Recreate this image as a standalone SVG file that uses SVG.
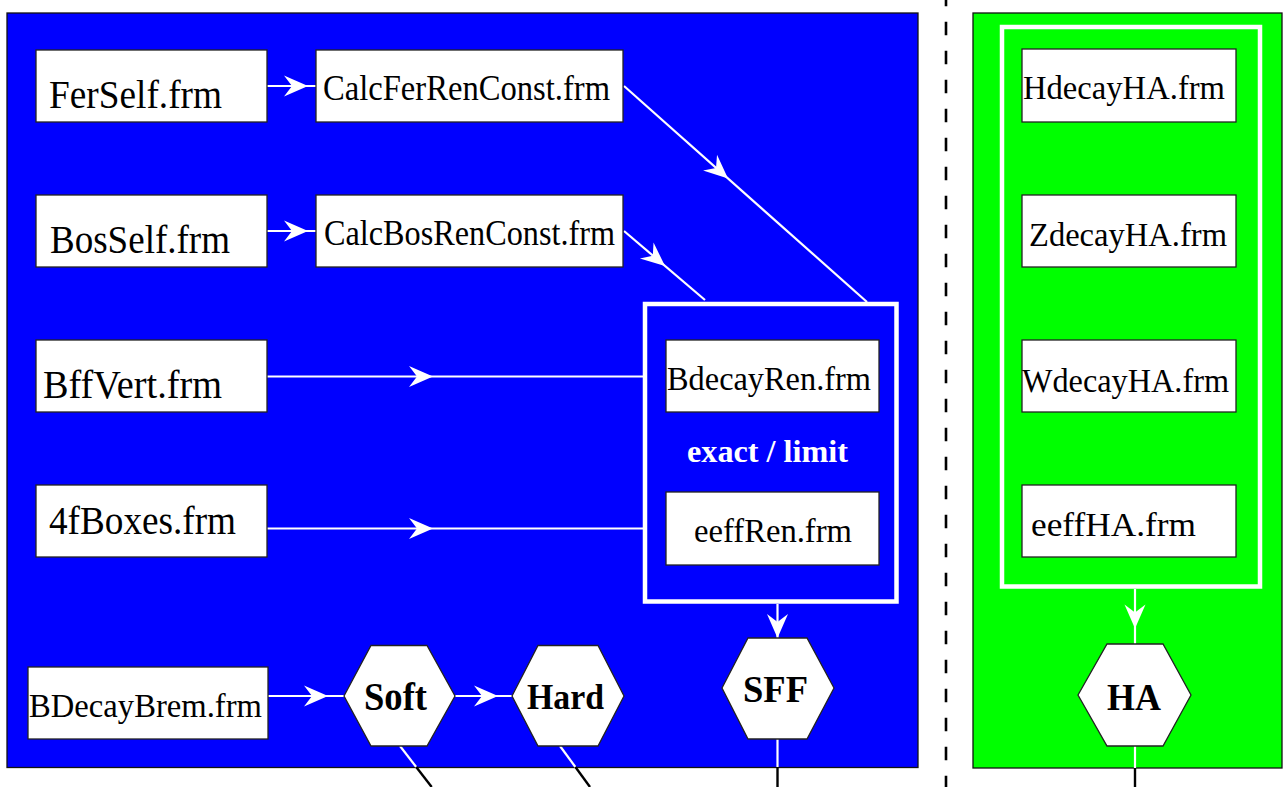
<svg xmlns="http://www.w3.org/2000/svg" xmlns:xlink="http://www.w3.org/1999/xlink" width="1286" height="787" viewBox="0 0 1286 787">
<style>
.box{fill:#fff;stroke:#222;stroke-width:1.3}
.hex{fill:#fff;stroke:#222;stroke-width:1.3}
.t{font-family:"Liberation Serif","Times New Roman",serif;fill:#000}
.b{font-family:"Liberation Serif","Times New Roman",serif;font-weight:bold;fill:#000}
.w{stroke:#fff;stroke-width:2.2;fill:none}
.k{stroke:#000;stroke-width:2.4;fill:none}
.frame{fill:none;stroke:#fff;stroke-width:4.5}
</style>
<defs>
<path id="ah" d="M0,0 L-24,-10.5 L-16,0 L-24,10.5 Z" fill="#fff"/>
</defs>
<rect width="1286" height="787" fill="#fff"/>
<g id="panel-blue"><rect x="7" y="13" width="911" height="754.5" fill="#0000ff" stroke="#111" stroke-width="1.3"/></g>
<g id="panel-green"><rect x="973" y="13" width="309" height="755" fill="#00ff00" stroke="#111" stroke-width="1.3"/></g>
<g id="divider"><line x1="946" y1="-7.3" x2="946" y2="787" stroke="#000" stroke-width="2.6" stroke-dasharray="13.5 15.5"/></g>
<g id="frame-ren"><rect class="frame" x="645" y="304" width="251.5" height="297.5"/></g>
<g id="frame-ha"><rect class="frame" x="1002" y="27" width="258" height="559.5"/></g>

<g id="connectors">
<line class="w" x1="267" y1="86" x2="316" y2="86"/>
<use xlink:href="#ah" transform="translate(308,86)"/>
<line class="w" x1="267" y1="231" x2="316" y2="231"/>
<use xlink:href="#ah" transform="translate(308,231)"/>
<line class="w" x1="624" y1="86" x2="867" y2="302"/>
<use xlink:href="#ah" transform="translate(728,178.5) rotate(41.6)"/>
<line class="w" x1="624" y1="231" x2="705" y2="300"/>
<use xlink:href="#ah" transform="translate(665,266) rotate(40.4)"/>
<line class="w" x1="267" y1="376.5" x2="645" y2="376.5"/>
<use xlink:href="#ah" transform="translate(433,376.5)"/>
<line class="w" x1="267" y1="528.5" x2="645" y2="528.5"/>
<use xlink:href="#ah" transform="translate(433,528.5)"/>
<line class="w" x1="777.5" y1="604" x2="777.5" y2="638"/>
<use xlink:href="#ah" transform="translate(777.5,638) rotate(90)"/>
<line class="w" x1="1135" y1="589" x2="1135" y2="644"/>
<use xlink:href="#ah" transform="translate(1135,628.5) rotate(90)"/>
<line class="w" x1="268" y1="696" x2="344" y2="696"/>
<use xlink:href="#ah" transform="translate(328,696)"/>
<line class="w" x1="455" y1="696" x2="512" y2="696"/>
<use xlink:href="#ah" transform="translate(498,696)"/>
<line class="w" x1="400" y1="746" x2="416.2" y2="767"/>
<line class="k" x1="416.2" y1="767" x2="431.7" y2="787"/>
<line class="w" x1="560" y1="746" x2="575.4" y2="767"/>
<line class="k" x1="575.4" y1="767" x2="590" y2="787"/>
<line class="w" x1="777.5" y1="739" x2="777.5" y2="767"/>
<line class="k" x1="777.5" y1="767" x2="777.5" y2="787"/>
<line class="w" x1="1135" y1="746" x2="1135" y2="768"/>
<line class="k" x1="1135" y1="768" x2="1135" y2="787"/>
</g>

<g id="FerSelf"><rect class="box" x="36" y="50" width="231" height="72"/><text class="t" x="49" y="108" font-size="39" textLength="173" lengthAdjust="spacingAndGlyphs">FerSelf.frm</text></g>
<g id="CalcFerRenConst"><rect class="box" x="316" y="50" width="307" height="72"/><text class="t" x="323" y="100" font-size="35" textLength="287" lengthAdjust="spacingAndGlyphs">CalcFerRenConst.frm</text></g>
<g id="BosSelf"><rect class="box" x="36" y="195" width="231" height="72"/><text class="t" x="50" y="253" font-size="39" textLength="180" lengthAdjust="spacingAndGlyphs">BosSelf.frm</text></g>
<g id="CalcBosRenConst"><rect class="box" x="316" y="195" width="307" height="72"/><text class="t" x="324" y="245" font-size="35" textLength="291" lengthAdjust="spacingAndGlyphs">CalcBosRenConst.frm</text></g>
<g id="BffVert"><rect class="box" x="36" y="340" width="231" height="72"/><text class="t" x="43" y="398" font-size="39" textLength="179" lengthAdjust="spacingAndGlyphs">BffVert.frm</text></g>
<g id="4fBoxes"><rect class="box" x="36" y="485" width="231" height="72"/><text class="t" x="49" y="534" font-size="39" textLength="187" lengthAdjust="spacingAndGlyphs">4fBoxes.frm</text></g>
<g id="BdecayRen"><rect class="box" x="666" y="340" width="213" height="72"/><text class="t" x="667" y="390" font-size="33.5" textLength="204" lengthAdjust="spacingAndGlyphs">BdecayRen.frm</text></g>
<g id="exact-limit"><text x="687" y="462" font-family="Liberation Serif,serif" font-weight="bold" font-size="32" fill="#fff" textLength="161" lengthAdjust="spacingAndGlyphs">exact / limit</text></g>
<g id="eeffRen"><rect class="box" x="666" y="492" width="213" height="73"/><text class="t" x="694" y="542" font-size="33.5" textLength="158" lengthAdjust="spacingAndGlyphs">eeffRen.frm</text></g>
<g id="BDecayBrem"><rect class="box" x="28" y="667" width="240" height="72"/><text class="t" x="29" y="717" font-size="34" textLength="233" lengthAdjust="spacingAndGlyphs">BDecayBrem.frm</text></g>
<g id="Soft"><polygon class="hex" points="344,696 371,645.5 427,645.5 455,696 427,746 371,746"/><text class="b" x="364" y="710" font-size="39" textLength="63" lengthAdjust="spacingAndGlyphs">Soft</text></g>
<g id="Hard"><polygon class="hex" points="512,696 538,645.5 598,645.5 624,696 598,746 538,746"/><text class="b" x="527" y="709" font-size="36" textLength="77" lengthAdjust="spacingAndGlyphs">Hard</text></g>
<g id="SFF"><polygon class="hex" points="722,688 748,638 807,638 834,688 807,739 748,739"/><text class="b" x="743" y="702" font-size="38" textLength="65" lengthAdjust="spacingAndGlyphs">SFF</text></g>
<g id="HdecayHA"><rect class="box" x="1022" y="49" width="214" height="73"/><text class="t" x="1023" y="99" font-size="34" textLength="202" lengthAdjust="spacingAndGlyphs">HdecayHA.frm</text></g>
<g id="ZdecayHA"><rect class="box" x="1022" y="195" width="214" height="72"/><text class="t" x="1029" y="246" font-size="34" textLength="198" lengthAdjust="spacingAndGlyphs">ZdecayHA.frm</text></g>
<g id="WdecayHA"><rect class="box" x="1022" y="340" width="214" height="72"/><text class="t" x="1022" y="392" font-size="34" textLength="207" lengthAdjust="spacingAndGlyphs">WdecayHA.frm</text></g>
<g id="eeffHA"><rect class="box" x="1022" y="485" width="214" height="72"/><text class="t" x="1031" y="536" font-size="34" textLength="165" lengthAdjust="spacingAndGlyphs">eeffHA.frm</text></g>
<g id="HA"><polygon class="hex" points="1078,695 1107,644 1163,644 1191,695 1163,746 1107,746"/><text class="b" x="1107" y="710" font-size="38" textLength="54" lengthAdjust="spacingAndGlyphs">HA</text></g>
</svg>
